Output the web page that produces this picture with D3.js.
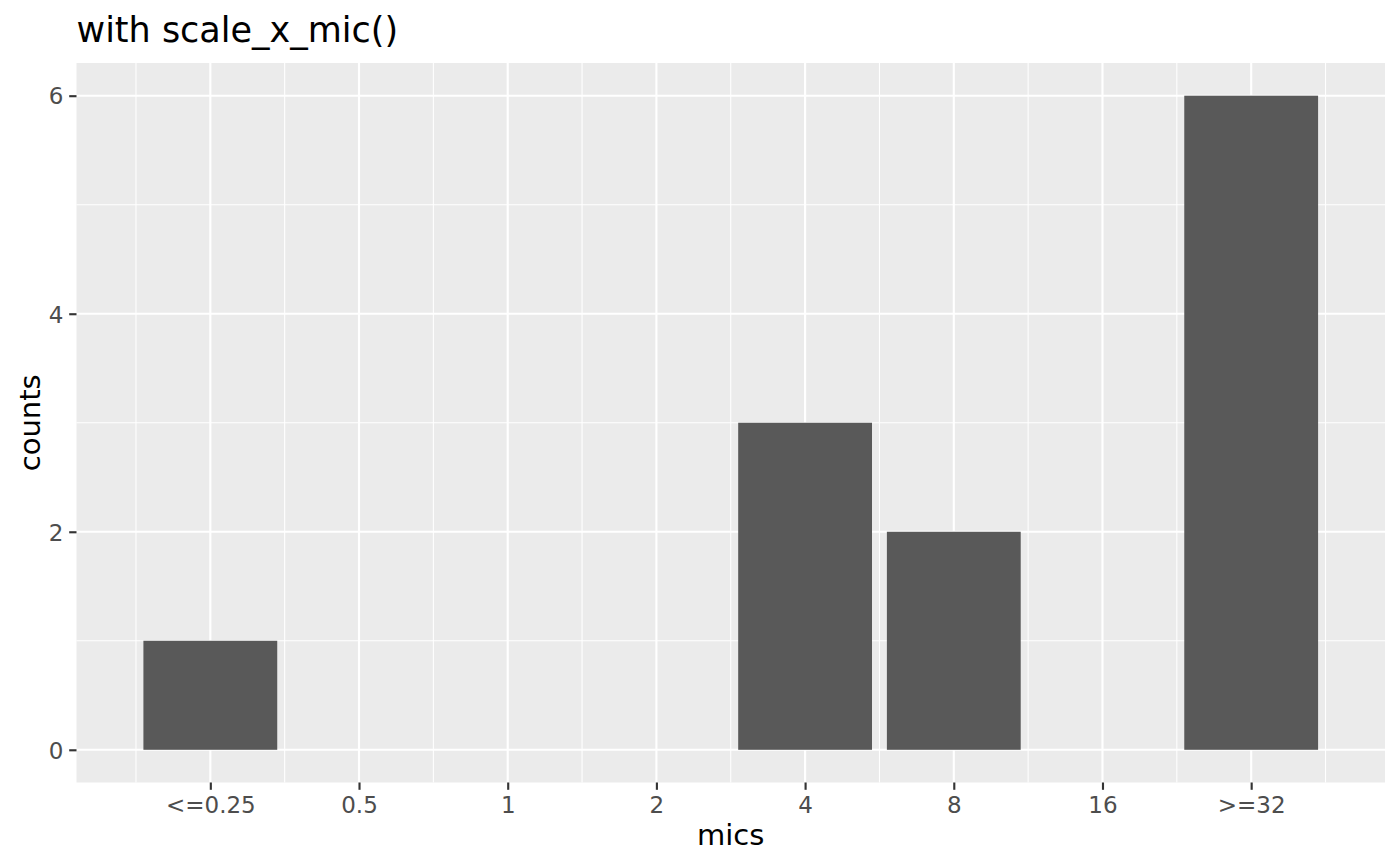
<!DOCTYPE html>
<html><head><meta charset="utf-8">
<script src="https://cdn.jsdelivr.net/npm/d3@7"></script>
<style>body{margin:0;background:#fff}</style>
</head><body>
<script>
const categories = ["<=0.25","0.5","1","2","4","8","16",">=32"];
const counts = [1,0,0,0,3,2,0,6];
const yTicks = [0,2,4,6];
const yMinor = [1,3,5];

const W=1400,H=866;
const L=76.5,R=1385,T=63,B=782.5;
const svg=d3.select("body").append("svg").attr("width",W).attr("height",H);
const font="DejaVu Sans";

const x=d3.scaleLinear().domain([0.1,categories.length+0.9]).range([L,R]);
const y=d3.scaleLinear().domain([-0.3,6.3]).range([B,T]);

svg.append("rect").attr("x",L).attr("y",T).attr("width",R-L).attr("height",B-T).attr("fill","#ebebeb");

const g=svg.append("g");
const xMinor=d3.range(categories.length+1).map(i=>i+0.5);
g.selectAll(".mx").data(xMinor).join("line").attr("x1",d=>x(d)).attr("x2",d=>x(d)).attr("y1",T).attr("y2",B).attr("stroke","#fff").attr("stroke-width",1.07);
g.selectAll(".my").data(yMinor).join("line").attr("y1",d=>y(d)).attr("y2",d=>y(d)).attr("x1",L).attr("x2",R).attr("stroke","#fff").attr("stroke-width",1.07);
g.selectAll(".Mx").data(categories).join("line").attr("x1",(d,i)=>x(i+1)).attr("x2",(d,i)=>x(i+1)).attr("y1",T).attr("y2",B).attr("stroke","#fff").attr("stroke-width",2.13);
g.selectAll(".My").data(yTicks).join("line").attr("y1",d=>y(d)).attr("y2",d=>y(d)).attr("x1",L).attr("x2",R).attr("stroke","#fff").attr("stroke-width",2.13);

svg.selectAll(".bar").data(counts).join("rect")
 .attr("x",(d,i)=>x(i+1-0.45)).attr("width",(d,i)=>x(i+1+0.45)-x(i+1-0.45))
 .attr("y",d=>y(d)).attr("height",d=>y(0)-y(d)).attr("fill","#595959");

const xa=d3.axisBottom(x).tickValues(d3.range(1,categories.length+1)).tickFormat(d=>categories[d-1]).tickSize(7.3).tickPadding(5.5);
const xg=svg.append("g").attr("transform",`translate(0,${B})`).call(xa);
const ya=d3.axisLeft(y).tickValues(yTicks).tickFormat(d3.format("d")).tickSize(7.3).tickPadding(5.8);
const yg=svg.append("g").attr("transform",`translate(${L},0)`).call(ya);
[xg,yg].forEach(a=>{a.select(".domain").remove();a.attr("font-size",null).attr("font-family",null);
 a.selectAll(".tick line").attr("stroke","#333").attr("stroke-width",2.13);
 a.selectAll("text").attr("fill","#4d4d4d").style("font-family",font).style("font-size","23px");});
xg.selectAll("text").attr("dy","0.76em");
yg.selectAll("text").attr("dy","0.36em");

svg.append("text").attr("x",L).attr("y",42).text("with scale_x_mic()").style("font-family",font).style("font-size","35px").attr("fill","#000");
svg.append("text").attr("x",(L+R)/2).attr("y",845).attr("text-anchor","middle").text("mics").style("font-family",font).style("font-size","29px");
svg.append("text").attr("transform",`translate(40,${(T+B)/2}) rotate(-90)`).attr("text-anchor","middle").text("counts").style("font-family",font).style("font-size","29px");
</script>
</body></html>
